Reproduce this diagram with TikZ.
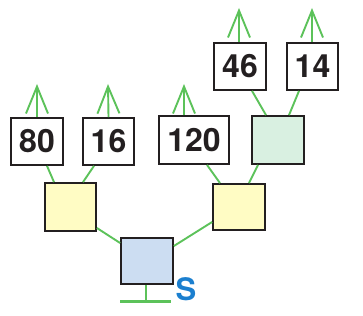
\documentclass[tikz,border=0pt]{standalone}
\usepackage{fontspec}
\setmainfont{TeX Gyre Heros}
\usetikzlibrary{arrows.meta,calc}
\definecolor{lg}{HTML}{5CC25A}
\definecolor{yel}{HTML}{FFFCC4}
\definecolor{grn}{HTML}{D9F0E1}
\definecolor{blu}{HTML}{CCDDF2}
\definecolor{sblue}{HTML}{1B7FCF}
\definecolor{ink}{HTML}{231F20}
\begin{document}
\begin{tikzpicture}[x=1pt,y=-1pt,
  box/.style={draw=ink,line width=1.8pt,inner sep=0pt,minimum width=52pt,minimum height=47pt,
    font=\bfseries\fontsize{32}{32}\selectfont,text=ink},
  link/.style={draw=lg,line width=1.9pt},
  up/.style={draw=lg,line width=1.9pt,-{Straight Barb[length=27pt,width=22pt,line width=1.9pt]}}]
\useasboundingbox (0,0) rectangle (363,315);
\node[box] (n80) at (37,141.5) {80};
\node[box,minimum width=51pt] (n16) at (108.5,141.5) {16};
\node[box,minimum width=70pt,minimum height=48pt] (n120) at (194,140) {120};
\node[box,fill=grn,minimum height=48pt] (g) at (278,140) {};
\node[box] (n46) at (240,66.5) {46};
\node[box,minimum width=51pt] (n14) at (312.5,66.5) {14};
\node[box,fill=yel,minimum width=51pt,minimum height=48pt] (yl) at (70.5,207) {};
\node[box,fill=yel,minimum height=46pt] (yr) at (239,207) {};
\node[box,fill=blu,minimum height=46pt] (b) at (147,261) {};
\node[font=\bfseries\fontsize{31}{31}\selectfont,text=sblue,inner sep=0pt] (s) at (186,289) {S};
% arrows
\coordinate (t80) at (37,84);
\coordinate (t16) at (108,84);
\coordinate (t120) at (184,84);
\coordinate (t46) at (239,8);
\coordinate (t14) at (312,8);
\draw[up] (n80.north) -- (t80);
\draw[up] (n16.north) -- (t16);
\draw[up] ([xshift=-10pt]n120.north) -- (t120);
\draw[up] ([xshift=-1pt]n46.north) -- (t46);
\draw[up] ([xshift=-0.5pt]n14.north) -- (t14);
% links
\draw[link] ([xshift=10pt]n80.south) -- ([xshift=-16.5pt]yl.north);
\draw[link] ([xshift=-14.5pt]n16.south) -- ([xshift=12.5pt]yl.north);
\draw[link] ([xshift=13pt]n120.south) -- ([xshift=-19pt]yr.north);
\draw[link] ([xshift=-20pt]g.south) -- ([xshift=10pt]yr.north);
\draw[link] ([xshift=12pt]n46.south) -- ([xshift=-12pt]g.north);
\draw[link] ([xshift=-13.5pt]n14.south) -- ([xshift=11pt]g.north);
\draw[link] ([yshift=-21pt]yl.east) -- ([yshift=18pt]b.west);
\draw[link] ([yshift=-15pt]yr.west) -- ([yshift=15pt]b.east);
% ground
\coordinate (gl) at (120,301);
\coordinate (gr) at (171,301);
\coordinate (gm) at (146,301);
\draw[link,line width=1.5pt] ([xshift=-1pt]b.south) -- (gm);
\draw[draw=lg,line width=3pt] (gl) -- (gr);
\end{tikzpicture}
\end{document}
